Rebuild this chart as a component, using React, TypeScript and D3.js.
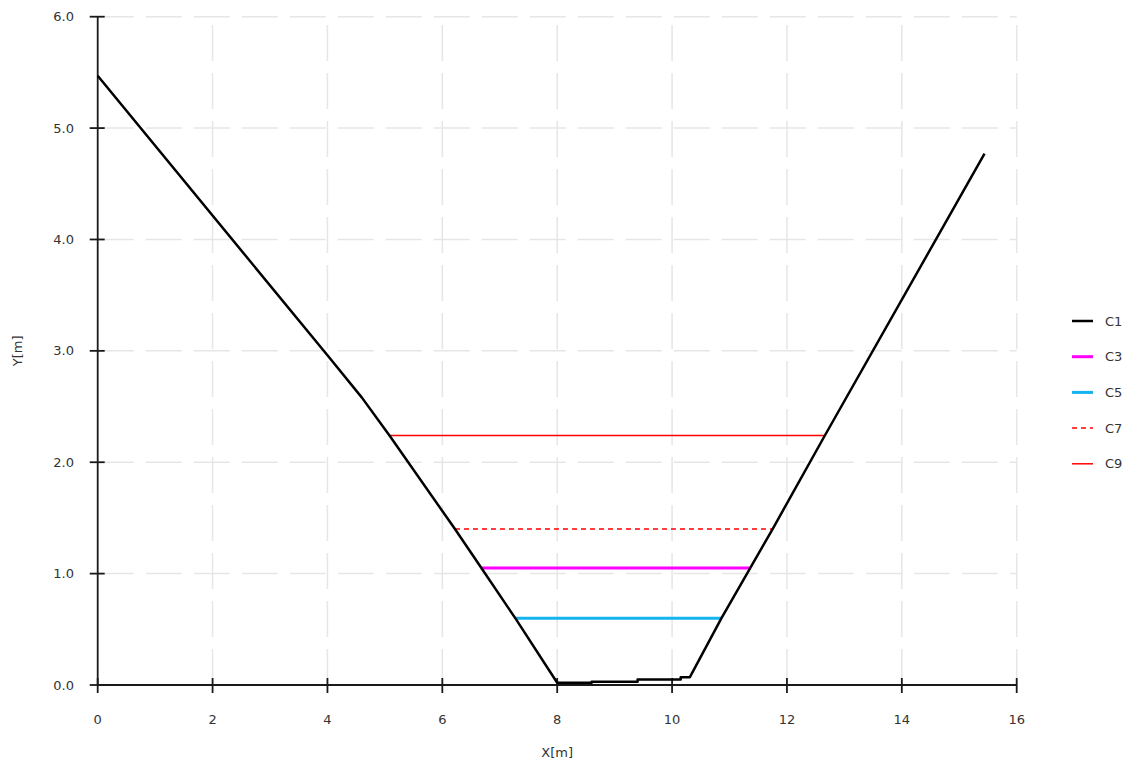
import React, { useEffect, useRef } from 'react';
import * as d3 from 'd3';

// ground profile C1
const groundX = [0, 4.0, 4.6, 5.08, 6.22, 6.68, 7.27, 8.0, 8.6, 8.6, 9.4, 9.4, 10.15, 10.15, 10.31, 10.86, 11.36, 11.75, 12.66, 15.44];
const groundY = [5.47, 2.96, 2.58, 2.24, 1.4, 1.05, 0.6, 0.02, 0.02, 0.03, 0.03, 0.05, 0.05, 0.07, 0.07, 0.6, 1.05, 1.4, 2.24, 4.77];

// water levels
const levelNames = ['C3', 'C5', 'C7', 'C9'];
const levelY = [1.05, 0.6, 1.4, 2.24];
const levelX0 = [6.68, 7.27, 6.22, 5.08];
const levelX1 = [11.36, 10.86, 11.75, 12.66];

const legendNames = ['C1', 'C3', 'C5', 'C7', 'C9'];
const xTicks = [0, 2, 4, 6, 8, 10, 12, 14, 16];
const yTicks = [0, 1, 2, 3, 4, 5, 6];

const styles = {
  C1: { color: '#000000', width: 2.5, dash: null },
  C3: { color: '#ff00ff', width: 3, dash: null },
  C5: { color: '#14b4f0', width: 3, dash: null },
  C7: { color: '#ff0000', width: 1.5, dash: '5,4' },
  C9: { color: '#ff0000', width: 1.5, dash: null },
};

export default function App() {
  const svgRef = useRef(null);

  useEffect(() => {
    const svg = d3.select(svgRef.current);
    svg.selectAll('*').remove();

    const x = d3.scaleLinear().domain([0, 16]).range([97.7, 1016.7]);
    const y = d3.scaleLinear().domain([0, 6]).range([685, 16.7]);
    const font = '"DejaVu Sans", Verdana, sans-serif';
    const fs = 13;

    // grid
    const grid = svg.append('g');
    xTicks.filter(t => t > 0).forEach(t => {
      grid.append('line')
        .attr('x1', x(t)).attr('x2', x(t)).attr('y1', y(0)).attr('y2', y(6))
        .attr('stroke', '#e6e6e6').attr('stroke-width', 1.5).attr('stroke-dasharray', '36,12');
    });
    yTicks.filter(t => t > 0).forEach(t => {
      grid.append('line')
        .attr('x1', x(0)).attr('x2', x(16)).attr('y1', y(t)).attr('y2', y(t))
        .attr('stroke', '#e6e6e6').attr('stroke-width', 1.5).attr('stroke-dasharray', '36,12');
    });

    // axes
    const ax = svg.append('g');
    ax.append('line').attr('x1', x(0)).attr('x2', x(16)).attr('y1', y(0)).attr('y2', y(0))
      .attr('stroke', '#1a1a1a').attr('stroke-width', 1.8);
    ax.append('line').attr('x1', x(0)).attr('x2', x(0)).attr('y1', y(0)).attr('y2', y(6))
      .attr('stroke', '#1a1a1a').attr('stroke-width', 1.8);
    xTicks.forEach(t => {
      ax.append('line').attr('x1', x(t)).attr('x2', x(t)).attr('y1', y(0) - 7).attr('y2', y(0) + 8)
        .attr('stroke', '#1a1a1a').attr('stroke-width', 1.8);
      ax.append('text').attr('x', x(t)).attr('y', 724).attr('text-anchor', 'middle')
        .attr('font-family', font).attr('font-size', fs).attr('fill', '#333').text(t);
    });
    yTicks.forEach(t => {
      ax.append('line').attr('x1', x(0) - 8).attr('x2', x(0) + 7).attr('y1', y(t)).attr('y2', y(t))
        .attr('stroke', '#1a1a1a').attr('stroke-width', 1.8);
      ax.append('text').attr('x', 74).attr('y', y(t)).attr('dy', '0.35em').attr('text-anchor', 'end')
        .attr('font-family', font).attr('font-size', fs).attr('fill', '#333').text(t.toFixed(1));
    });
    ax.append('text').attr('x', (x(0) + x(16)) / 2).attr('y', 757).attr('text-anchor', 'middle')
      .attr('font-family', font).attr('font-size', fs).attr('fill', '#333').text('X[m]');
    ax.append('text').attr('transform', `translate(22,${(y(0) + y(6)) / 2}) rotate(-90)`)
      .attr('text-anchor', 'middle')
      .attr('font-family', font).attr('font-size', fs).attr('fill', '#333').text('Y[m]');

    // water levels
    levelNames.forEach((name, i) => {
      const s = styles[name];
      svg.append('line')
        .attr('x1', x(levelX0[i])).attr('x2', x(levelX1[i]))
        .attr('y1', y(levelY[i])).attr('y2', y(levelY[i]))
        .attr('stroke', s.color).attr('stroke-width', s.width)
        .attr('stroke-dasharray', s.dash);
    });

    // ground
    const line = d3.line().x(d => x(d[0])).y(d => y(d[1]));
    svg.append('path')
      .datum(groundX.map((v, i) => [v, groundY[i]]))
      .attr('d', line)
      .attr('fill', 'none').attr('stroke', styles.C1.color).attr('stroke-width', styles.C1.width)
      .attr('stroke-linejoin', 'round');

    // legend
    const legend = svg.append('g').attr('transform', 'translate(1072,321)');
    legendNames.forEach((name, i) => {
      const s = styles[name];
      legend.append('line').attr('x1', 0).attr('x2', 21).attr('y1', i * 35.7).attr('y2', i * 35.7)
        .attr('stroke', s.color).attr('stroke-width', s.width).attr('stroke-dasharray', s.dash);
      legend.append('text').attr('x', 33).attr('y', i * 35.7).attr('dy', '0.35em')
        .attr('font-family', font).attr('font-size', fs).attr('fill', '#333').text(name);
    });
  }, []);

  return (
    <svg ref={svgRef} width={1137} height={774}
      style={{ position: 'absolute', left: 0, top: 0, background: '#fff' }} />
  );
}
